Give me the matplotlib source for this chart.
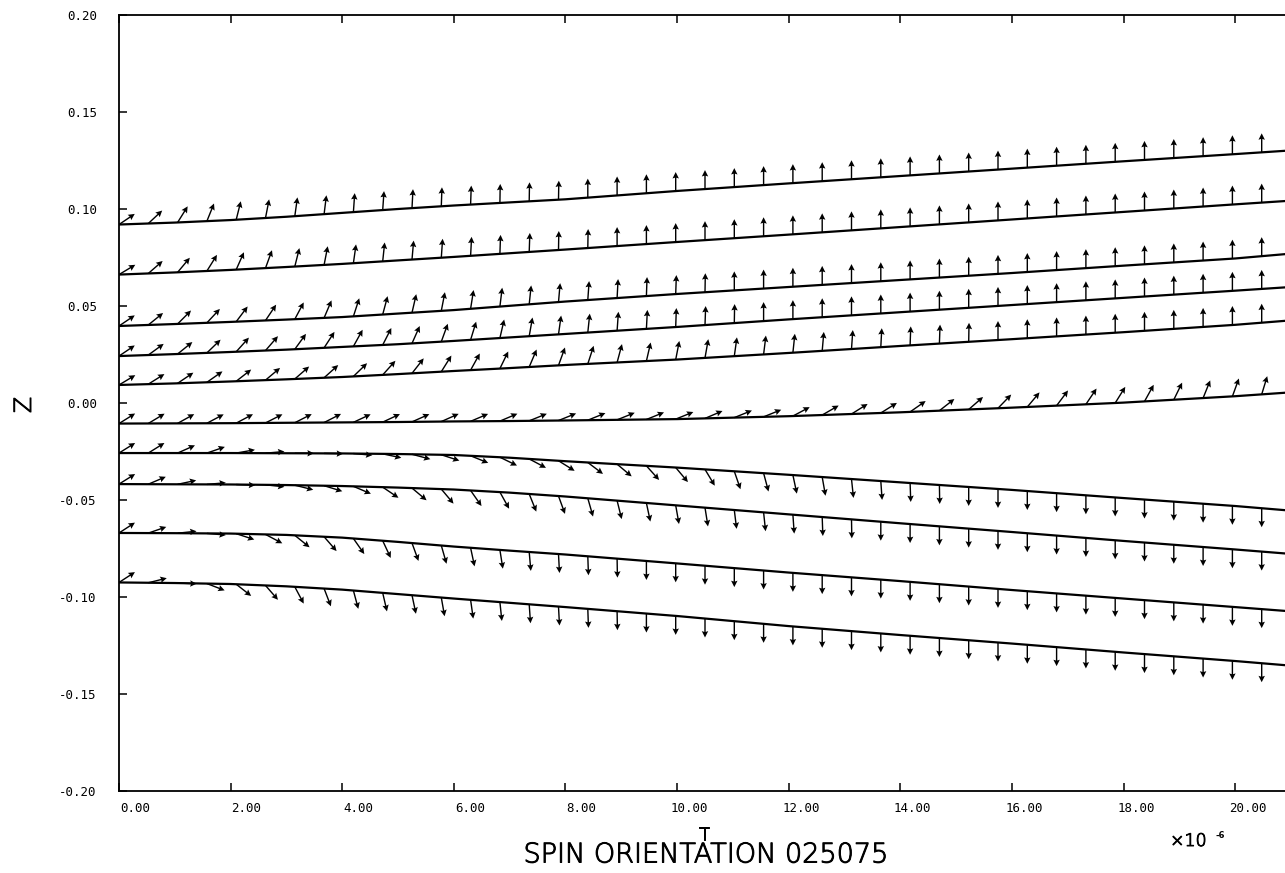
import numpy as np
import matplotlib
matplotlib.use('Agg')
import matplotlib.pyplot as plt
import matplotlib.transforms as mtransforms
import matplotlib.patheffects as pe

matplotlib.rcParams['axes.unicode_minus'] = False

# times (x10^-6) at which curve heights were read
t_pts = [0, 1, 2, 3, 4, 5, 6, 7, 8, 10, 12, 14, 16, 18, 20, 21]

z1 = [0.0920, 0.0930, 0.0943, 0.0960, 0.0980, 0.1000, 0.1018, 0.1034, 0.1050, 0.1093, 0.1132, 0.1170, 0.1208, 0.1246, 0.1283, 0.1302]
z2 = [0.0662, 0.0673, 0.0686, 0.0701, 0.0717, 0.0735, 0.0753, 0.0772, 0.0791, 0.0830, 0.0868, 0.0907, 0.0946, 0.0985, 0.1024, 0.1043]
z3 = [0.0397, 0.0407, 0.0418, 0.0430, 0.0443, 0.0461, 0.0479, 0.0501, 0.0523, 0.0562, 0.0598, 0.0634, 0.0670, 0.0708, 0.0745, 0.0770]
z4 = [0.0242, 0.0252, 0.0263, 0.0275, 0.0289, 0.0303, 0.0320, 0.0338, 0.0356, 0.0392, 0.0431, 0.0468, 0.0505, 0.0542, 0.0579, 0.0598]
z5 = [0.0093, 0.0101, 0.0111, 0.0122, 0.0134, 0.0149, 0.0165, 0.0180, 0.0196, 0.0224, 0.0258, 0.0294, 0.0329, 0.0365, 0.0403, 0.0426]
z6 = [-0.0106, -0.0105, -0.0104, -0.0102, -0.0100, -0.0098, -0.0095, -0.0093, -0.0090, -0.0083, -0.0068, -0.0048, -0.0024, 0.0002, 0.0035, 0.0055]
z7 = [-0.0258, -0.0258, -0.0258, -0.0259, -0.0260, -0.0263, -0.0268, -0.0282, -0.0300, -0.0333, -0.0370, -0.0409, -0.0448, -0.0490, -0.0531, -0.0555]
z8 = [-0.0418, -0.0419, -0.0420, -0.0423, -0.0428, -0.0436, -0.0446, -0.0462, -0.0482, -0.0528, -0.0574, -0.0620, -0.0665, -0.0711, -0.0755, -0.0778]
z9 = [-0.0670, -0.0671, -0.0673, -0.0680, -0.0694, -0.0716, -0.0740, -0.0761, -0.0781, -0.0827, -0.0874, -0.0918, -0.0964, -0.1008, -0.1052, -0.1074]
z10 = [-0.0925, -0.0928, -0.0933, -0.0945, -0.0962, -0.0985, -0.1008, -0.1030, -0.1052, -0.1098, -0.1150, -0.1196, -0.1240, -0.1286, -0.1330, -0.1354]

# spin arrows: sample times and direction (degrees, as seen on the page)
arrow_t = np.arange(40) * 0.525
a1 = [34, 43, 58, 68, 76, 79, 82, 83, 86, 86, 87, 88, 88, 89, 89, 89] + [90] * 24
a2 = [31, 41, 50, 58, 66, 70, 76, 79, 82, 84, 85, 86, 87, 88, 88, 89, 89] + [90] * 23
a3 = [34, 39, 45, 47, 53, 56, 62, 67, 72, 75, 77, 79, 81, 83, 84, 85, 86, 87, 88, 88, 89] + [90] * 19
a4 = [34, 36, 39, 44, 48, 49, 54, 57, 61, 63, 66, 70, 73, 77, 80, 82, 84, 86, 87, 88, 88, 89] + [90] * 18
a5 = [31, 32, 34, 35, 38, 40, 41, 42, 44, 48, 52, 58, 61, 64, 67, 70, 72, 75, 77, 79,
      80, 82, 83, 84, 85, 86, 87, 88, 88, 89] + [90] * 10
a6 = [32, 31, 29, 28, 28, 27, 27, 27, 25, 25, 24, 24, 23, 23, 22, 22, 22, 22, 22, 22,
      23, 22, 22, 28, 30, 32, 32, 35, 38, 41, 46, 50, 53, 56, 58, 61, 64, 68, 70, 73]
a7 = [32, 32, 24, 19, 10, 5, 0, -1, -5, -12, -15, -18, -22, -26, -28, -32, -37, -40, -48, -50,
      -59, -71, -75, -78, -80, -84, -86, -88, -89] + [-90] * 11
a8 = [32, 23, 12, 5, -2, -6, -14, -17, -23, -34, -40, -50, -55, -61, -68, -70, -74, -76, -78, -80,
      -81, -83, -84, -86, -88, -89] + [-90] * 14
a9 = [33, 19, 6, -5, -18, -28, -39, -49, -55, -65, -70, -74, -78, -81, -85, -87, -88, -89] + [-90] * 22
a10 = [33, 14, -2, -21, -38, -49, -62, -69, -75, -77, -78, -80, -82, -84, -86, -87, -88, -89] + [-90] * 22

curves = [z1, z2, z3, z4, z5, z6, z7, z8, z9, z10]
angles = [a1, a2, a3, a4, a5, a6, a7, a8, a9, a10]

x_ticks = [0, 2, 4, 6, 8, 10, 12, 14, 16, 18, 20]
y_ticks = [-0.20, -0.15, -0.10, -0.05, 0.00, 0.05, 0.10, 0.15, 0.20]

W, H = 1285, 873
fig = plt.figure(figsize=(W / 100, H / 100), dpi=100)
ax = fig.add_axes([119 / W, 1 - 791 / H, (1291 - 119) / W, (791 - 15) / H])
ax.set_xlim(0, 21)
ax.set_ylim(-0.20, 0.20)

for z, ang in zip(curves, angles):
    ax.plot(t_pts, z, color='black', lw=1.6)
    zb = np.interp(arrow_t, t_pts, z)
    a = np.radians(ang)
    ax.quiver(arrow_t, zb, np.cos(a), np.sin(a), angles='uv', pivot='tail',
              units='dots', scale_units='dots', scale=1 / 19.0, width=1.4,
              headwidth=4.6, headlength=4.6, headaxislength=4.0, color='black')

for s in ax.spines.values():
    s.set_linewidth(1.3)

tick_font = {'family': 'DejaVu Sans Mono', 'size': 9}
ax.set_xticks(x_ticks)
ax.set_xticklabels(['%.2f' % v for v in x_ticks], **tick_font)
ax.set_yticks(y_ticks)
ax.set_yticklabels(['%.2f' % v for v in y_ticks], **tick_font)
ax.tick_params(axis='x', direction='in', top=True, bottom=True, length=6, width=1.1, pad=8)
ax.tick_params(axis='y', direction='in', left=True, right=False, length=6, width=1.1, pad=16)

shift = mtransforms.ScaledTranslation(31 / 100, 0, fig.dpi_scale_trans)
for lab in ax.get_xticklabels():
    lab.set_horizontalalignment('right')
    lab.set_transform(lab.get_transform() + shift)

thick = [pe.withStroke(linewidth=0.7, foreground='black')]
fig.text(24 / W, 1 - 405 / H, 'Z', rotation=90, ha='center', va='center', fontsize=17,
         fontweight='light', path_effects=thick)
fig.text(704 / W, 1 - 835 / H, 'T', ha='center', va='center', fontsize=13,
         fontweight='light', path_effects=thick)
fig.text(706 / W, 1 - 855 / H, 'SPIN ORIENTATION 025075', ha='center', va='center',
         fontsize=19.5, fontweight='light', path_effects=thick)
fig.text(1170 / W, 1 - 841 / H, '\u00d710', ha='left', va='center', fontsize=12.5,
         fontweight='light', path_effects=thick)
fig.text(1216 / W, 1 - 835 / H, '-6', ha='left', va='center', fontsize=6, fontweight='bold')

plt.savefig('out.png', dpi=100)
